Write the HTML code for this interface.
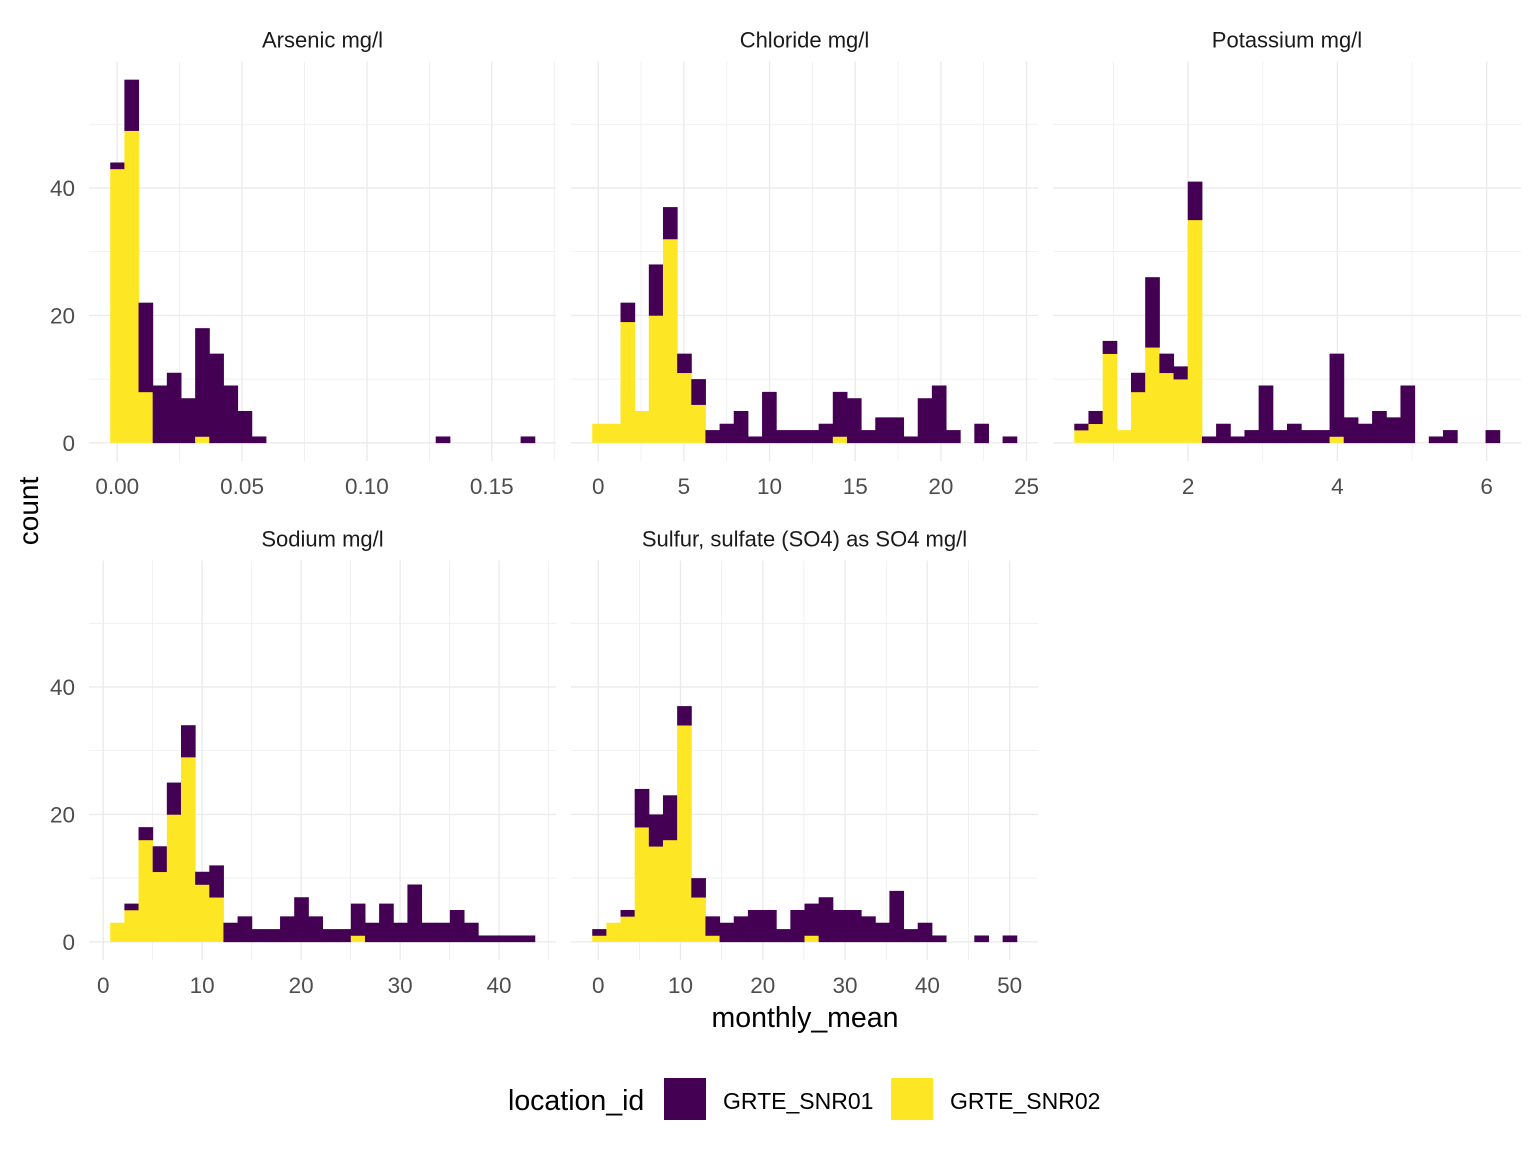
<!DOCTYPE html>
<html><head><meta charset="utf-8"><style>
body{margin:0;background:#fff;}
svg{display:block;font-family:"Liberation Sans",sans-serif;}
</style></head><body>
<svg id="chart" width="1536" height="1152" viewBox="0 0 1536 1152"></svg>
<script>
const facetTitles = ["Arsenic mg/l","Chloride mg/l","Potassium mg/l","Sodium mg/l","Sulfur, sulfate (SO4) as SO4 mg/l"];
const binStart = [-0.0028, -0.35, 0.475, 0.71, -0.73];
const binWidth = [0.005667, 0.826, 0.19, 1.43, 1.72];
const totalArsenic = [44,57,22,9,11,7,18,14,9,5,1,0,0,0,0,0,0,0,0,0,0,0,0,1,0,0,0,0,0,1];
const snr02Arsenic = [43,49,8,0,0,0,1,0,0,0,0,0,0,0,0,0,0,0,0,0,0,0,0,0,0,0,0,0,0,0];
const totalChloride = [3,3,22,5,28,37,14,10,2,3,5,1,8,2,2,2,3,8,7,2,4,4,1,7,9,2,0,3,0,1];
const snr02Chloride = [3,3,19,5,20,32,11,6,0,0,0,0,0,0,0,0,0,1,0,0,0,0,0,0,0,0,0,0,0,0];
const totalPotassium = [3,5,16,2,11,26,14,12,41,1,3,1,2,9,2,3,2,2,14,4,3,5,4,9,0,1,2,0,0,2];
const snr02Potassium = [2,3,14,2,8,15,11,10,35,0,0,0,0,0,0,0,0,0,1,0,0,0,0,0,0,0,0,0,0,0];
const totalSodium = [3,6,18,15,25,34,11,12,3,4,2,2,4,7,4,2,2,6,3,6,3,9,3,3,5,3,1,1,1,1];
const snr02Sodium = [3,5,16,11,20,29,9,7,0,0,0,0,0,0,0,0,0,1,0,0,0,0,0,0,0,0,0,0,0,0];
const totalSulfate = [2,3,5,24,20,23,37,10,4,3,4,5,5,2,5,6,7,5,5,4,3,8,2,3,1,0,0,1,0,1];
const snr02Sulfate = [1,3,4,18,15,16,34,7,1,0,0,0,0,0,0,1,0,0,0,0,0,0,0,0,0,0,0,0,0,0];
const xBreaks = [[0,0.05,0.10,0.15],[0,5,10,15,20,25],[2,4,6],[0,10,20,30,40],[0,10,20,30,40,50]];
const xLabels = [["0.00","0.05","0.10","0.15"],["0","5","10","15","20","25"],["2","4","6"],["0","10","20","30","40"],["0","10","20","30","40","50"]];
const xMinor = [[0.025,0.075,0.125,0.175],[2.5,7.5,12.5,17.5,22.5],[1,3,5],[5,15,25,35,45],[5,15,25,35,45]];
const yBreaks = [0,20,40];
const yMinor = [10,30,50];

const totals=[totalArsenic,totalChloride,totalPotassium,totalSodium,totalSulfate];
const snr02=[snr02Arsenic,snr02Chloride,snr02Potassium,snr02Sodium,snr02Sulfate];
const NS="http://www.w3.org/2000/svg";
const svg=document.getElementById('chart');
function mk(t,a,p){const e=document.createElementNS(NS,t);for(const k in a)e.setAttribute(k,a[k]);(p||svg).appendChild(e);return e;}
const panels=[[89,556,61.5,461],[571,1038,61.5,461],[1053,1521,61.5,461],[89,556,560.5,960],[571,1038,560.5,960]];
const yMax=59.85,yMin=-2.85;
panels.forEach((P,i)=>{
  const [x0,x1,y0,y1]=P;
  const nb=totals[i].length;
  const dMin=binStart[i], dMax=binStart[i]+nb*binWidth[i];
  const span=dMax-dMin, lo=dMin-0.05*span, hi=dMax+0.05*span;
  const xs=v=>x0+(v-lo)/(hi-lo)*(x1-x0);
  const ys=v=>y1-(v-yMin)/(yMax-yMin)*(y1-y0);
  const g=mk('g',{});
  
  
  const cid='clip'+i;
  const cp=mk('clipPath',{id:cid},g);mk('rect',{x:x0,y:y0,width:x1-x0,height:y1-y0},cp);
  const grid=mk('g',{'clip-path':'url(#'+cid+')'},g);
  yMinor.forEach(v=>{const l=mk('line',{x1:x0,x2:x1,y1:ys(v),y2:ys(v),stroke:'#ebebeb','stroke-width':0.7},grid);});
  xMinor[i].forEach(v=>{const l=mk('line',{x1:xs(v),x2:xs(v),y1:y0,y2:y1,stroke:'#ebebeb','stroke-width':0.7},grid);});
  yBreaks.forEach(v=>{const l=mk('line',{x1:x0,x2:x1,y1:ys(v),y2:ys(v),stroke:'#ebebeb','stroke-width':1.4},grid);});
  xBreaks[i].forEach(v=>{const l=mk('line',{x1:xs(v),x2:xs(v),y1:y0,y2:y1,stroke:'#ebebeb','stroke-width':1.4},grid);});
  for(let b=0;b<nb;b++){
    const a=xs(dMin+b*binWidth[i]), c=xs(dMin+(b+1)*binWidth[i]);
    const t=totals[i][b], y2v=snr02[i][b];
    if(y2v>0){const r=mk('rect',{x:a,y:ys(y2v),width:c-a+0.5,height:ys(0)-ys(y2v),fill:'#FDE725'},g);}
    if(t>y2v){const r=mk('rect',{x:a,y:ys(t),width:c-a+0.5,height:ys(y2v)-ys(t)+0.3,fill:'#440154'},g);}
  }
  const st=mk('text',{x:(x0+x1)/2,y:y0-14,'text-anchor':'middle','font-size':22,fill:'#1a1a1a'},g);st.textContent=facetTitles[i];
  
  xBreaks[i].forEach((v,k)=>{const t=mk('text',{x:xs(v),y:y1+33,'text-anchor':'middle','font-size':22.5,fill:'#4d4d4d'},g);t.textContent=xLabels[i][k];});
  if(i===0||i===3){yBreaks.forEach(v=>{const t=mk('text',{x:x0-14,y:ys(v)+8,'text-anchor':'end','font-size':22.5,fill:'#4d4d4d'},g);t.textContent=String(v);});}
});
</script>
<svg style="position:absolute;left:0;top:0" width="1536" height="1152">
<text x="38" y="511" transform="rotate(-90 38 511)" text-anchor="middle" font-size="28" fill="#000" font-family="Liberation Sans, sans-serif">count</text>
<text x="805" y="1027" text-anchor="middle" font-size="28.5" fill="#000" font-family="Liberation Sans, sans-serif">monthly_mean</text>
<g>
<text x="508" y="1110" font-size="28.5" fill="#000" font-family="Liberation Sans, sans-serif">location_id</text>
<rect x="664" y="1078" width="42" height="42" fill="#440154"/>
<text x="723" y="1109" font-size="23" fill="#000" font-family="Liberation Sans, sans-serif">GRTE_SNR01</text>
<rect x="891" y="1078" width="42" height="42" fill="#FDE725"/>
<text x="950" y="1109" font-size="23" fill="#000" font-family="Liberation Sans, sans-serif">GRTE_SNR02</text>
</g>
</svg>
</body></html>
